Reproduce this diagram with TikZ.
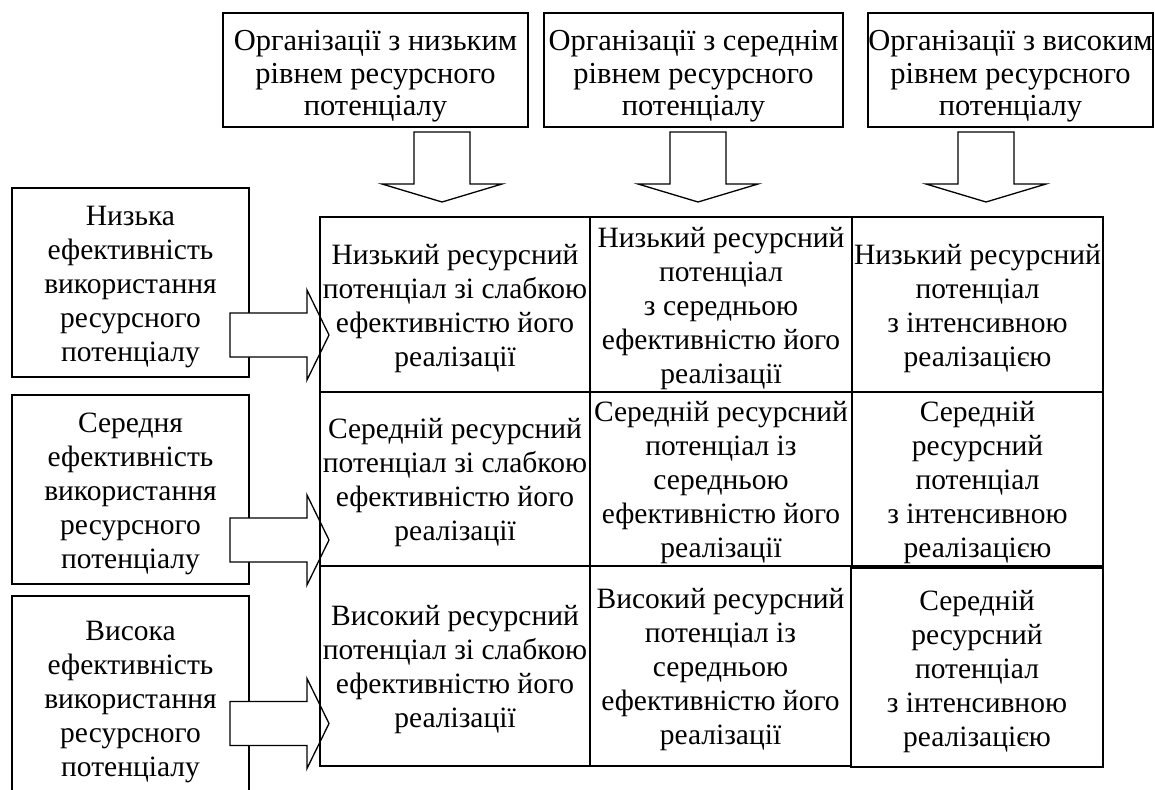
\documentclass[tikz,border=0pt]{standalone}
\usepackage{fontspec}
\setmainfont{Liberation Serif}
\newcommand{\cellstrut}{\rule{0pt}{28pt}}
\newcommand{\topstrut}{\rule{0pt}{33pt}}
\begin{document}
\begin{tikzpicture}[x=1pt,y=-1pt,
  every node/.style={font=\fontsize{29.5}{34}\selectfont, align=center, inner sep=0pt},
  box/.style={draw, line width=1.3pt},
  topbox/.style={box, font=\fontsize{30.5}{32.5}\selectfont},
  blockarrow/.style={draw, fill=white, line width=1.3pt, line join=miter}]
\clip (0,0) rectangle (1155,789);
\useasboundingbox (0,0) rectangle (1155,789);
% left boxes
\node[box, minimum width=237pt, minimum height=189pt] (L1) at (130.5,282.5) {\cellstrut Низька\\ефективність\\використання\\ресурсного\\потенціалу};
\node[box, minimum width=237pt, minimum height=189pt] (L2) at (130.5,489.5) {\cellstrut Середня\\ефективність\\використання\\ресурсного\\потенціалу};
\node[box, minimum width=237pt, minimum height=204pt] (L3) at (130.5,698) {\cellstrut Висока\\ефективність\\використання\\ресурсного\\потенціалу};
% right block arrows
\foreach \cy in {335,540,723.5}{
  \draw[blockarrow] (230,\cy-22) -- (307,\cy-22) -- (307,\cy-45) -- (329,\cy)
     -- (307,\cy+45) -- (307,\cy+22) -- (230,\cy+22) -- cycle;
}
% top boxes
\node[topbox, minimum width=305pt, minimum height=114pt] (T1) at (375.5,70) {\topstrut Організації з низьким\\рівнем ресурсного\\потенціалу};
\node[topbox, minimum width=299pt, minimum height=114pt] (T2) at (693.5,70) {\topstrut Організації з середнім\\рівнем ресурсного\\потенціалу};
\node[topbox, minimum width=285pt, minimum height=114pt] (T3) at (1010.5,70) {\topstrut Організації з високим\\рівнем ресурсного\\потенціалу};
% down block arrows
\foreach \cx in {442,698,986}{
  \draw[blockarrow] (\cx-28,132) -- (\cx+28,132) -- (\cx+28,184) -- (\cx+60,184)
     -- (\cx,202) -- (\cx-60,184) -- (\cx-28,184) -- cycle;
}
% grid cells
\node[box, minimum width=270pt, minimum height=175pt] (c11) at (455,304.5) {\cellstrut Низький ресурсний\\потенціал зі слабкою\\ефективністю його\\реалізації};
\node[box, minimum width=262pt, minimum height=175pt] (c12) at (721,304.5) {\cellstrut Низький ресурсний\\потенціал\\з середньою\\ефективністю його\\реалізації};
\node[box, minimum width=251pt, minimum height=175pt] (c13) at (977.5,304.5) {\cellstrut Низький ресурсний\\потенціал\\з інтенсивною\\реалізацією};
\node[box, minimum width=270pt, minimum height=174pt] (c21) at (455,479) {\cellstrut Середній ресурсний\\потенціал зі слабкою\\ефективністю його\\реалізації};
\node[box, minimum width=262pt, minimum height=174pt] (c22) at (721,479) {\cellstrut Середній ресурсний\\потенціал із\\середньою\\ефективністю його\\реалізації};
\node[box, minimum width=251pt, minimum height=174pt] (c23) at (977.5,479) {\cellstrut Середній\\ресурсний\\потенціал\\з інтенсивною\\реалізацією};
\node[box, minimum width=270pt, minimum height=200pt] (c31) at (455,666) {\cellstrut Високий ресурсний\\потенціал зі слабкою\\ефективністю його\\реалізації};
\node[box, minimum width=261pt, minimum height=200pt] (c32) at (720.5,666) {\cellstrut Високий ресурсний\\потенціал із\\середньою\\ефективністю його\\реалізації};
\node[box, minimum width=252pt, minimum height=199pt] (c33) at (977,667.5) {\cellstrut Середній\\ресурсний\\потенціал\\з інтенсивною\\реалізацією};
\end{tikzpicture}
\end{document}
